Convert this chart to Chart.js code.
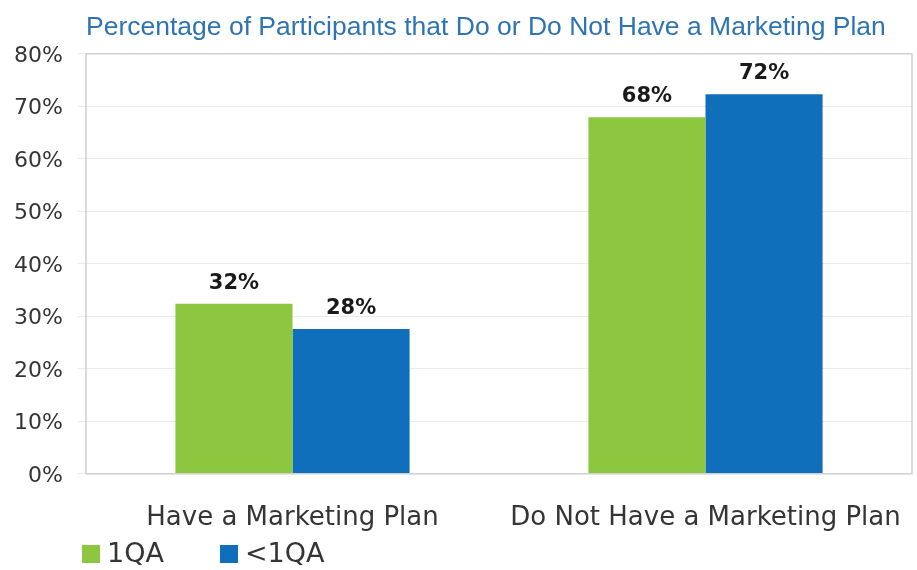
<!DOCTYPE html>
<html>
<head>
<meta charset="utf-8">
<script src="https://cdn.jsdelivr.net/npm/chart.js@4"></script>
<style>
  html, body { margin: 0; padding: 0; background: #fff; }
  #wrap { width: 917px; height: 570px; }
</style>
</head>
<body>
<div id="wrap"><canvas id="chart" width="917" height="570"></canvas></div>
<script>
const categories = ['Have a Marketing Plan', 'Do Not Have a Marketing Plan'];
const seriesNames = ['1QA', '<1QA'];
const values1QA = [32.4, 67.9];
const valuesLess1QA = [27.6, 72.3];
const yTicks = [0, 10, 20, 30, 40, 50, 60, 70, 80];

const green = '#8dc63f';
const blue = '#0f6fba';
const textColor = '#353535';
const fontFamily = '"DejaVu Sans", Lato, sans-serif';

// Light gray box round the plot area
const frame = {
  id: 'frame',
  afterDraw(chart) {
    const { ctx, chartArea: a } = chart;
    ctx.save();
    ctx.strokeStyle = '#d0d0d0';
    ctx.lineWidth = 1.5;
    ctx.strokeRect(a.left, a.top, a.right - a.left, a.bottom - a.top);
    ctx.restore();
  }
};

// Bold value labels above each bar
const barLabels = {
  id: 'barLabels',
  afterDatasetsDraw(chart) {
    const { ctx } = chart;
    ctx.save();
    ctx.font = 'bold 21px ' + fontFamily;
    ctx.fillStyle = '#1a1a1a';
    ctx.textAlign = 'center';
    ctx.textBaseline = 'alphabetic';
    chart.data.datasets.forEach((ds, i) => {
      chart.getDatasetMeta(i).data.forEach((bar, j) => {
        ctx.fillText(Math.round(ds.data[j]) + '%', bar.x, bar.y - 15);
      });
    });
    ctx.restore();
  }
};

// Legend under the axis, left-aligned like the original
const bottomLegend = {
  id: 'bottomLegend',
  afterDraw(chart) {
    const { ctx } = chart;
    const xs = [82, 220];
    const y = 554;
    ctx.save();
    ctx.font = '27px ' + fontFamily;
    ctx.textBaseline = 'middle';
    chart.data.datasets.forEach((ds, i) => {
      ctx.fillStyle = ds.backgroundColor;
      ctx.fillRect(xs[i], y - 9, 18, 18);
      ctx.fillStyle = textColor;
      ctx.fillText(ds.label, xs[i] + 25, y + 1);
    });
    ctx.restore();
  }
};

new Chart(document.getElementById('chart').getContext('2d'), {
  type: 'bar',
  data: {
    labels: categories,
    datasets: [
      { label: seriesNames[0], data: values1QA, backgroundColor: green },
      { label: seriesNames[1], data: valuesLess1QA, backgroundColor: blue }
    ]
  },
  options: {
    responsive: false,
    animation: false,
    layout: { padding: { left: 0, right: 5, top: 0, bottom: 15 } },
    datasets: {
      bar: { barPercentage: 1, categoryPercentage: 0.567 }
    },
    plugins: {
      title: {
        display: true,
        fullSize: false,
        align: 'start',
        text: 'Percentage of Participants that Do or Do Not Have a Marketing Plan',
        color: '#2e74b5',
        font: { family: '"Liberation Sans", Arial, sans-serif', size: 26.5, weight: 'normal' },
        padding: { top: 12, bottom: 10 }
      },
      legend: { display: false },
      tooltip: { enabled: false }
    },
    scales: {
      x: {
        afterFit(scale) {
          scale.paddingLeft = 0;
          scale.paddingRight = 0;
        },
        grid: { display: false },
        border: { display: false },
        ticks: {
          color: textColor,
          font: { family: fontFamily, size: 26 },
          padding: 21
        }
      },
      y: {
        min: 0,
        max: 80,
        afterBuildTicks(scale) {
          scale.ticks = yTicks.map(v => ({ value: v }));
        },
        afterFit(scale) { scale.width = 86; },
        grid: { color: '#ebebeb', tickLength: 8 },
        border: { display: false },
        ticks: {
          color: textColor,
          font: { family: fontFamily, size: 22 },
          padding: 15,
          labelOffset: 2,
          callback: v => v + '%'
        }
      }
    }
  },
  plugins: [frame, barLabels, bottomLegend]
});
</script>
</body>
</html>
